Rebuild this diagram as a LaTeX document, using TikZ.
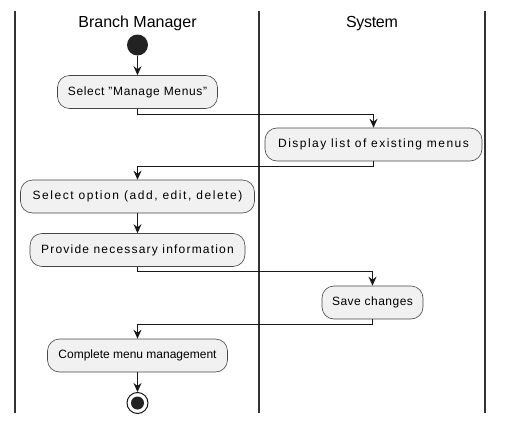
\documentclass[tikz,border=0pt]{standalone}
\usepackage{fontspec}
\setmainfont{Liberation Sans}
\usetikzlibrary{arrows.meta}
\definecolor{linec}{HTML}{181818}
\definecolor{lanec}{HTML}{333333}
\definecolor{boxfill}{HTML}{F1F1F1}
\definecolor{dotc}{HTML}{222222}
\newcommand{\lsp}[2]{{\addfontfeature{LetterSpace=#1}#2}}
\begin{document}
\begin{tikzpicture}[x=1pt,y=-1pt,
  act/.style={draw=linec!80, fill=boxfill, rounded corners=12pt, minimum height=33pt,
    inner xsep=0pt, inner ysep=0pt, line width=0.6pt, font=\fontsize{12}{14}\selectfont},
  flow/.style={draw=linec, line width=0.9pt, -{Stealth[length=9pt,width=8pt,inset=3pt]}},
  lane/.style={draw=lanec, line width=1.5pt},
  head/.style={anchor=base, font=\fontsize{16}{19}\selectfont, inner sep=0pt}]
\useasboundingbox (0,0) rectangle (507,426);
% swimlane borders
\draw[lane] (15,11) -- (15,413);
\draw[lane] (259,11) -- (259,413);
\draw[lane] (485,11) -- (485,413);
\node[head] (h1) at (137.5,27) {Branch Manager};
\node[head] (h2) at (372,27) {\lsp{-2}{System}};
% nodes
\node[circle, fill=dotc, minimum size=21pt, inner sep=0pt] (start) at (137.5,45) {};
\node[act, minimum width=160pt] (b1) at (137.5,92) {\lsp{5.5}{Select "Manage Menus"}};
\node[act, minimum width=217pt] (b2) at (373.5,144.5) {\lsp{12.2}{Display list of existing menus}};
\node[act, minimum width=234pt] (b3) at (137.5,196.5) {\lsp{13}{Select option (add, edit, delete)}};
\node[act, minimum width=215pt] (b4) at (137.5,250) {\lsp{10}{Provide necessary information}};
\node[act, minimum width=101pt] (b5) at (372.5,302.5) {\lsp{4}{Save changes}};
\node[act, minimum width=180pt] (b6) at (137.5,355.5) {Complete menu management};
\node[circle, draw=linec, line width=1pt, fill=white, minimum size=21pt, inner sep=0pt] (end) at (137.5,403) {};
\node[circle, fill=dotc, minimum size=13pt, inner sep=0pt] (endin) at (end.center) {};
% connectors
\draw[flow] (start) -- (b1);
\draw[flow] (b1.south) -- ++(0,6) -| (b2.north);
\draw[flow] (b2.south) -- ++(0,5) -| (b3.north);
\draw[flow] (b3) -- (b4);
\draw[flow] (b4.south) -- ++(0,5) -| (b5.north);
\draw[flow] (b5.south) -- ++(0,5) -| (b6.north);
\draw[flow] (b6) -- (end);
\end{tikzpicture}
\end{document}
